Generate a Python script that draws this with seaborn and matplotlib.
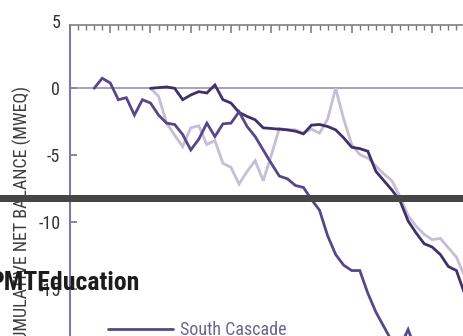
import matplotlib
matplotlib.use("Agg")
import matplotlib.pyplot as plt
from matplotlib import font_manager as fm
from matplotlib.patches import Rectangle
from matplotlib.ticker import MultipleLocator
import numpy as np
import pandas as pd
import seaborn as sns

# Cumulative net balance (m water equivalent) of the benchmark glaciers
sc_years = list(range(1958, 1999))
south_cascade = [0.0, 0.75, 0.4, -0.85, -0.7, -2.0, -0.85, -1.1, -2.0, -2.6,
                 -2.7, -3.45, -4.6, -3.8, -2.6, -3.6, -2.65, -2.6, -1.75,
                 -2.85, -3.6, -4.6, -5.6, -6.55, -6.75, -7.25, -7.4, -8.3,
                 -9.1, -11.0, -12.4, -13.2, -13.6, -13.6, -15.3, -16.7,
                 -17.8, -18.9, -19.3, -18.0, -19.6]

ak_years = list(range(1965, 2005))
gulkana = [0.0, 0.05, 0.1, 0.0, -0.85, -0.5, -0.25, -0.35, 0.25, -0.85,
           -1.1, -1.8, -2.1, -2.35, -2.95, -3.0, -3.05, -3.1, -3.2, -3.4,
           -2.75, -2.7, -2.85, -3.1, -3.7, -4.4, -4.5, -4.7, -6.2, -6.9,
           -7.6, -8.4, -9.9, -10.8, -11.6, -11.85, -12.4, -13.3, -13.6, -15.3]
wolverine = [0.0, -0.6, -2.6, -3.5, -4.35, -2.95, -2.8, -4.2, -3.9, -5.6,
             -5.9, -7.15, -6.2, -5.4, -6.9, -5.0, -3.0, -3.1, -3.1, -3.35,
             -3.05, -3.35, -2.3, 0.0, -2.3, -4.2, -4.95, -5.2, -5.8, -6.4,
             -6.9, -8.1, -9.5, -10.3, -10.9, -11.3, -11.2, -11.9, -12.6, -14.0]

glaciers = ["South Cascade", "Gulkana", "Wolverine"]
y_ticks = [-15, -10, -5, 0]
y_label = "CUMULATIVE NET BALANCE (MWEQ)"
watermark = "PMTEducation"

W, H, DPI = 464, 336, 100

sns.set_style("white")
available = {f.name for f in fm.fontManager.ttflist}
narrow = [n for n in ["Liberation Sans Narrow", "Roboto Condensed"] if n in available]
plt.rcParams["font.family"] = narrow + ["DejaVu Sans"]
plt.rcParams["font.stretch"] = "condensed"

df = pd.concat([
    pd.DataFrame({"year": sc_years, "balance": south_cascade, "glacier": "South Cascade"}),
    pd.DataFrame({"year": ak_years, "balance": gulkana, "glacier": "Gulkana"}),
    pd.DataFrame({"year": ak_years, "balance": wolverine, "glacier": "Wolverine"}),
], ignore_index=True)

palette = {"South Cascade": "#57478a", "Gulkana": "#40306a", "Wolverine": "#c4bfd4"}

# pixel layout: 1955 sits on the left spine, 8.05 px per year, 13.4 px per metre
x0_px, px_year = 70, 8.05
zero_px, px_m = 88.3, 13.4
x_lo, x_hi = 1955, 2010
y_lo, y_hi = -25, 4.75
top_px = zero_px - y_hi * px_m
bot_px = zero_px - y_lo * px_m
right_px = x0_px + (x_hi - x_lo) * px_year

fig = plt.figure(figsize=(W / DPI, H / DPI), dpi=DPI, facecolor="white")
ax = fig.add_axes([x0_px / W, 1 - bot_px / H, (right_px - x0_px) / W, (bot_px - top_px) / H])

ax.axhline(0, color="#8e86b0", lw=1.1, zorder=1)
sns.lineplot(data=df, x="year", y="balance", hue="glacier",
             hue_order=["Wolverine", "Gulkana", "South Cascade"],
             palette=palette, linewidth=2.0, estimator=None, legend=False, ax=ax)
for ln in ax.get_lines():
    ln.set_solid_joinstyle("miter")

ax.set_xlim(x_lo, x_hi)
ax.set_ylim(y_lo, y_hi)
ax.set_xlabel("")
ax.set_ylabel("")

# year ticks along the top edge, pointing down into the plot
ax.xaxis.tick_top()
ax.xaxis.set_major_locator(MultipleLocator(5))
ax.xaxis.set_minor_locator(MultipleLocator(1))
ax.tick_params(axis="x", which="major", direction="in", length=6, width=1.1,
               color="#777777", labeltop=False, labelbottom=False, top=True, bottom=False)
ax.tick_params(axis="x", which="minor", direction="in", length=3.6, width=1.0,
               color="#777777", top=True, bottom=False)

ax.set_yticks(y_ticks)
ax.set_yticklabels([str(t) for t in y_ticks])
ax.tick_params(axis="y", direction="in", length=5, width=1.3, color="#8079a0",
               pad=7, labelsize=13, labelcolor="#333333", left=True)
ax.annotate("5", xy=(0, 5), xycoords=("axes fraction", "data"), xytext=(-7, 0),
            textcoords="offset points", ha="right", va="center_baseline",
            fontsize=13, color="#333333", annotation_clip=False)

for side in ["right", "bottom"]:
    ax.spines[side].set_visible(False)
ax.spines["left"].set_color("#8079a0")
ax.spines["left"].set_linewidth(1.5)
ax.spines["top"].set_color("#808080")
ax.spines["top"].set_linewidth(1.2)

fig.text(22 / W, 1 - 86 / H, y_label, rotation=90, ha="center", va="top",
         fontsize=13, color="#3d3d3d")

lines = {ln.get_color(): ln for ln in ax.get_lines()}
handles = [lines[palette[g]] for g in glaciers]
fig.legend(handles, glaciers, loc="upper left", bbox_to_anchor=(108 / W, 1 - 321 / H),
           frameon=False, borderpad=0, borderaxespad=0, handlelength=3.6,
           handletextpad=0.4, fontsize=13, labelcolor="#6d6390")

# banner stripe and watermark over the figure
fig.patches.append(Rectangle((0, 1 - 202 / H), 1, 7 / H, transform=fig.transFigure,
                             facecolor="#464646", edgecolor="none", zorder=10))
fig.text(-11 / W, 1 - 290 / H, watermark, ha="left", va="baseline", fontsize=18.5,
         fontweight="bold", color="#1c1c1c", zorder=11)

fig.savefig("out.png", dpi=DPI, facecolor="white")
